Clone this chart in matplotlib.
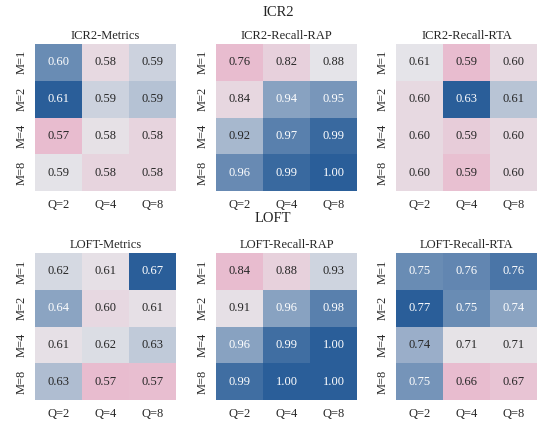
import numpy as np
import matplotlib
matplotlib.use('Agg')
import matplotlib.pyplot as plt
import seaborn as sns
from matplotlib.colors import LinearSegmentedColormap

sns.set_theme(style="white")
plt.rcParams['font.family'] = ['Liberation Serif', 'DejaVu Serif']

rows = ['M=1', 'M=2', 'M=4', 'M=8']
cols = ['Q=2', 'Q=4', 'Q=8']

# values read off the cells (extra digit estimated from the cell shade)
icr2_metrics = [[0.5983, 0.5791, 0.5879],
                [0.6051, 0.5879, 0.5903],
                [0.5651, 0.5831, 0.5771],
                [0.5853, 0.5771, 0.5771]]
icr2_rap = [[0.76, 0.82, 0.88],
            [0.84, 0.94, 0.95],
            [0.92, 0.97, 0.99],
            [0.96, 0.99, 1.00]]
icr2_rta = [[0.6088, 0.5855, 0.6018],
            [0.6018, 0.6320, 0.6145],
            [0.6018, 0.5948, 0.6018],
            [0.6018, 0.5878, 0.6018]]
loft_metrics = [[0.6245, 0.6140, 0.6700],
                [0.6440, 0.6040, 0.6140],
                [0.6140, 0.6230, 0.6300],
                [0.6345, 0.5700, 0.5720]]
loft_rap = [[0.84, 0.88, 0.93],
            [0.91, 0.96, 0.98],
            [0.96, 0.99, 1.00],
            [0.99, 1.00, 1.00]]
loft_rta = [[0.7545, 0.7569, 0.7645],
            [0.7749, 0.7545, 0.7440],
            [0.7390, 0.7114, 0.7114],
            [0.7509, 0.6551, 0.6670]]

cmap = LinearSegmentedColormap.from_list('pinkblue', ['#e8bccf', '#e6e5e9', '#2a5e99'])

W, H = 538, 424
fig = plt.figure(figsize=(W / 100, H / 100), dpi=100)


def add_panel(left, top, data, title):
    ax = fig.add_axes([left / W, 1 - (top + 147) / H, 141 / W, 147 / H])
    sns.heatmap(np.array(data), ax=ax, cmap=cmap, annot=True, fmt='.2f', cbar=False,
                xticklabels=cols, yticklabels=rows, annot_kws={'fontsize': 9})
    ax.set_title(title, fontsize=9, pad=3.5)
    ax.tick_params(axis='x', length=0, labelsize=9, pad=6)
    ax.tick_params(axis='y', length=0, labelsize=9, pad=5)
    return ax


add_panel(35, 44, icr2_metrics, 'ICR2-Metrics')
add_panel(216, 44, icr2_rap, 'ICR2-Recall-RAP')
add_panel(396, 44, icr2_rta, 'ICR2-Recall-RTA')
add_panel(35, 253, loft_metrics, 'LOFT-Metrics')
add_panel(216, 253, loft_rap, 'LOFT-Recall-RAP')
add_panel(396, 253, loft_rta, 'LOFT-Recall-RTA')

fig.text(278 / W, 1 - 12 / H, 'ICR2', ha='center', va='center', fontsize=10.5, color='.15')
fig.text(273 / W, 1 - 219 / H, 'LOFT', ha='center', va='center', fontsize=10.5, color='.15')

fig.savefig('out.png', dpi=100)
